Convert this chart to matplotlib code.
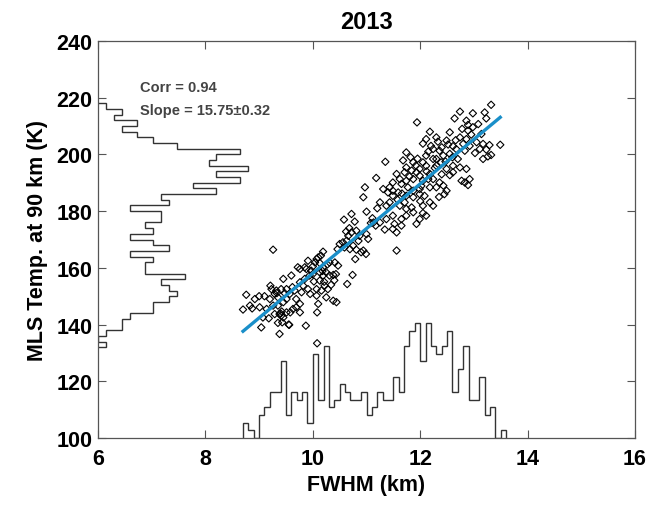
import numpy as np
import matplotlib
matplotlib.use("Agg")
import matplotlib.pyplot as plt

plt.rcParams['font.family'] = ['Liberation Sans', 'DejaVu Sans']
plt.rcParams['font.weight'] = 'bold'
plt.rcParams['axes.labelweight'] = 'bold'
plt.rcParams['axes.titleweight'] = 'bold'

# scatter points (FWHM km, MLS temperature K)
points = [
    (9.26, 166.4), (8.70, 145.3), (8.87, 145.7), (8.76, 150.5), (9.00, 150.0),
    (9.10, 150.0), (9.21, 153.7), (9.23, 152.5), (9.32, 152.0), (9.41, 152.5),
    (9.45, 156.1), (9.60, 157.3), (9.76, 159.6), (9.91, 162.5), (10.07, 163.1),
    (10.13, 161.7), (10.19, 165.7), (10.10, 163.7), (10.00, 160.5), (9.88, 159.6),
    (9.85, 156.1), (9.76, 154.9), (9.66, 152.0), (9.57, 150.8), (9.51, 149.0),
    (9.45, 147.9), (9.35, 146.7), (9.26, 146.7), (9.14, 145.5), (9.01, 146.1),
    (9.07, 142.5), (9.18, 142.2), (9.38, 143.7), (9.45, 142.5), (9.43, 140.8),
    (9.56, 139.9), (9.38, 136.7), (9.04, 139.0), (9.87, 139.6), (9.69, 149.0),
    (9.76, 147.3), (9.63, 145.5), (9.79, 151.4), (9.91, 152.5), (9.95, 150.8),
    (10.07, 152.5), (10.10, 147.3), (10.08, 144.3), (10.13, 155.5), (10.19, 157.3),
    (10.25, 158.4), (10.31, 157.3), (10.38, 157.5), (10.43, 157.8), (10.22, 153.7),
    (10.28, 152.5), (10.25, 149.6), (10.38, 148.4), (10.44, 147.9), (10.16, 152.0),
    (10.07, 150.2), (10.19, 160.2), (10.31, 161.9), (10.41, 161.9), (10.47, 160.8),
    (10.13, 158.4), (9.94, 157.3), (10.00, 157.8), (9.82, 153.7), (9.51, 152.5),
    (9.29, 150.8), (9.35, 149.6), (9.20, 149.0), (8.92, 149.0), (8.83, 146.7),
    (9.29, 143.7), (9.51, 144.3), (9.41, 143.1), (9.58, 144.3), (9.69, 146.1),
    (9.76, 144.3), (9.72, 160.2), (9.85, 160.2), (10.04, 161.9), (10.15, 164.3),
    (10.08, 133.4), (9.55, 140.0), (9.35, 140.6), (9.40, 143.9), (9.42, 144.6),
    (9.33, 151.1), (9.48, 151.0), (9.62, 153.2), (10.21, 155.1), (10.34, 154.0),
    (10.40, 155.6), (10.18, 158.9), (10.02, 155.2), (9.97, 159.0), (10.27, 161.2),
    # middle
    (10.74, 157.5), (10.64, 154.3), (10.79, 163.1), (10.46, 166.6), (10.50, 168.4),
    (10.56, 169.0), (10.63, 169.6), (10.66, 171.3), (10.72, 172.5), (10.59, 167.2),
    (10.69, 166.6), (10.75, 167.8), (10.81, 166.4), (10.90, 165.5), (10.99, 164.9),
    (10.94, 166.1), (10.87, 171.3), (11.00, 171.9), (11.03, 170.2), (10.81, 173.1),
    (10.58, 177.0), (10.72, 179.0), (10.78, 176.3), (10.97, 188.4), (10.94, 184.9),
    (11.00, 179.8), (11.11, 177.5), (11.13, 176.0), (11.17, 174.9), (11.25, 176.0),
    (11.34, 173.5), (11.49, 173.7), (11.52, 175.5), (11.65, 174.9), (11.56, 172.5),
    (11.56, 166.1), (11.37, 177.2), (11.49, 178.4), (11.65, 177.2), (11.74, 178.4),
    (11.93, 175.5), (11.99, 177.2), (12.11, 178.4), (12.05, 179.3), (11.87, 179.6),
    (11.18, 191.7), (11.25, 183.1), (11.37, 181.9), (11.43, 183.1), (11.62, 181.9),
    (11.74, 180.8), (11.84, 181.3), (11.71, 183.1), (11.31, 187.8), (11.40, 186.6),
    (11.43, 188.4), (11.49, 187.2), (11.59, 186.6), (11.49, 185.4), (11.74, 185.4),
    (11.87, 184.9), (11.99, 186.0), (12.08, 185.4), (12.05, 181.9), (12.18, 183.1),
    (12.24, 181.9), (11.77, 188.4), (11.87, 187.2), (11.99, 187.8), (12.18, 188.4),
    (12.30, 188.4), (12.43, 189.0), (12.49, 187.2), (12.36, 190.1), (12.24, 191.3),
    (12.15, 191.3), (12.05, 190.7), (11.99, 192.5), (11.87, 191.3), (11.74, 190.7),
    (11.65, 189.6), (11.56, 193.1), (11.62, 191.3), (11.49, 190.1), (11.71, 193.7),
    (11.74, 195.4), (11.84, 194.3), (11.93, 193.7), (11.99, 194.9), (12.11, 196.0),
    (11.87, 197.2), (11.74, 200.7), (11.35, 197.4), (12.05, 197.2), (12.11, 199.6),
    (12.24, 198.4), (12.30, 196.0), (12.18, 193.1), (12.49, 194.9), (12.61, 196.0),
    (12.74, 195.4), (12.61, 193.7), (12.55, 192.7), (12.86, 194.9), (12.70, 198.4),
    (12.30, 198.4), (12.39, 197.2), (12.92, 191.3), (12.83, 190.1), (12.77, 190.7),
    (12.89, 189.2), (10.62, 172.8), (10.68, 174.0), (10.85, 169.5), (11.08, 175.8),
    (11.20, 181.0), (11.58, 184.0), (11.80, 192.2), (11.92, 196.1), (12.02, 188.9),
    (12.12, 194.0), (12.27, 195.2), (12.40, 193.0), (12.45, 186.0), (12.35, 185.0),
    (11.68, 197.9), (11.82, 199.0), (11.95, 198.5), (12.00, 183.5), (11.66, 186.2),
    # upper
    (13.32, 217.5), (12.74, 215.1), (12.64, 212.7), (12.98, 214.5), (13.20, 214.8),
    (13.23, 212.7), (12.86, 211.9), (12.89, 210.4), (11.94, 211.3), (12.18, 208.0),
    (12.55, 207.8), (12.98, 209.6), (13.08, 210.7), (12.89, 208.4), (13.14, 207.2),
    (12.86, 205.4), (12.74, 206.0), (12.11, 205.4), (12.33, 204.5), (12.49, 204.9),
    (12.61, 202.9), (12.80, 203.7), (12.24, 201.9), (12.36, 201.3), (12.43, 199.6),
    (12.55, 200.2), (12.67, 201.9), (12.83, 201.3), (13.05, 204.3), (13.17, 203.7),
    (13.11, 201.9), (13.29, 203.3), (13.49, 203.4), (13.23, 201.7), (13.32, 199.8),
    (13.17, 198.4), (13.26, 199.3), (12.20, 203.0), (12.40, 202.5), (12.52, 203.5),
    (12.30, 206.0), (12.66, 205.0), (12.95, 207.0), (12.78, 209.0), (12.92, 203.0),
    (12.60, 199.0), (12.47, 197.5), (13.02, 200.5), (12.15, 201.0), (12.05, 203.8),
]
fwhm, temp = np.array(points).T

# regression
fit_slope = 15.75
fit_intercept = 0.62
corr_text = "Corr = 0.94"
slope_text = "Slope = 15.75\u00b10.32"

# histogram of temperature (2 K bins, 132..218)
temp_edges = np.arange(132, 220, 2)
temp_counts = [1, 0, 1, 3, 3, 4, 7, 7, 9, 10, 9, 8, 11, 6, 6, 7, 4, 9, 7, 4, 7,
               6, 8, 8, 4, 9, 8, 15, 12, 18, 15, 19, 14, 15, 18, 10, 7, 5, 3, 5,
               2, 3, 1]

# histogram of FWHM (0.1 km bins, 8.7..13.6)
fwhm_edges = np.round(np.arange(8.7, 13.65, 0.1), 2)
fwhm_counts = [2, 1, 0, 3, 4, 6, 6, 10, 3, 6, 5, 6, 2, 11, 5, 12, 4, 5, 7, 6,
               5, 5, 6, 3, 4, 6, 5, 5, 8, 6, 12, 14, 15, 10, 15, 12, 11, 12, 14,
               6, 9, 12, 5, 5, 8, 3, 4, 0, 1]

fig = plt.figure(figsize=(6.47, 5.06), dpi=100)
ax = fig.add_axes([0.1515, 0.1324, 0.830, 0.7846])

# histograms drawn as outlines along the axes
hist_col = '#333333'
ax.stairs(6 + 0.147 * np.array(temp_counts), temp_edges, baseline=6,
          orientation='horizontal', color=hist_col, lw=1.0)
ax.stairs(100 + 2.7 * np.array(fwhm_counts), fwhm_edges, baseline=100,
          color=hist_col, lw=1.0)

ax.scatter(fwhm, temp, marker='D', s=14, facecolors='none',
           edgecolors='black', linewidths=0.8, zorder=3)

xl = np.array([fwhm.min(), fwhm.max()])
ax.plot(xl, fit_slope * xl + fit_intercept, color='#1a8fc9', lw=2.4, zorder=4)

ax.text(6.78, 223.8, corr_text, fontsize=10.5, color='#444444', va='center')
ax.text(6.78, 215.7, slope_text, fontsize=10.5, color='#444444', va='center')

ax.set_xlim(6, 16)
ax.set_ylim(100, 240)
ax.set_xticks(range(6, 17, 2))
ax.set_yticks(range(100, 241, 20))
ax.tick_params(direction='in', top=True, right=True, length=6, width=0.8,
               color='#555555', labelsize=15.5)
ax.tick_params(axis='x', pad=7)
ax.tick_params(axis='y', pad=4)
for s in ax.spines.values():
    s.set_color('#555555')
    s.set_linewidth(0.9)

ax.set_xlabel("FWHM (km)", fontsize=15.5, fontweight='bold', labelpad=4)
ax.set_ylabel("MLS Temp. at 90 km (K)", fontsize=15.5, fontweight='bold', labelpad=6)
ax.set_title("2013", fontsize=17, pad=9, fontweight='bold')

fig.savefig("out.png", dpi=100)
